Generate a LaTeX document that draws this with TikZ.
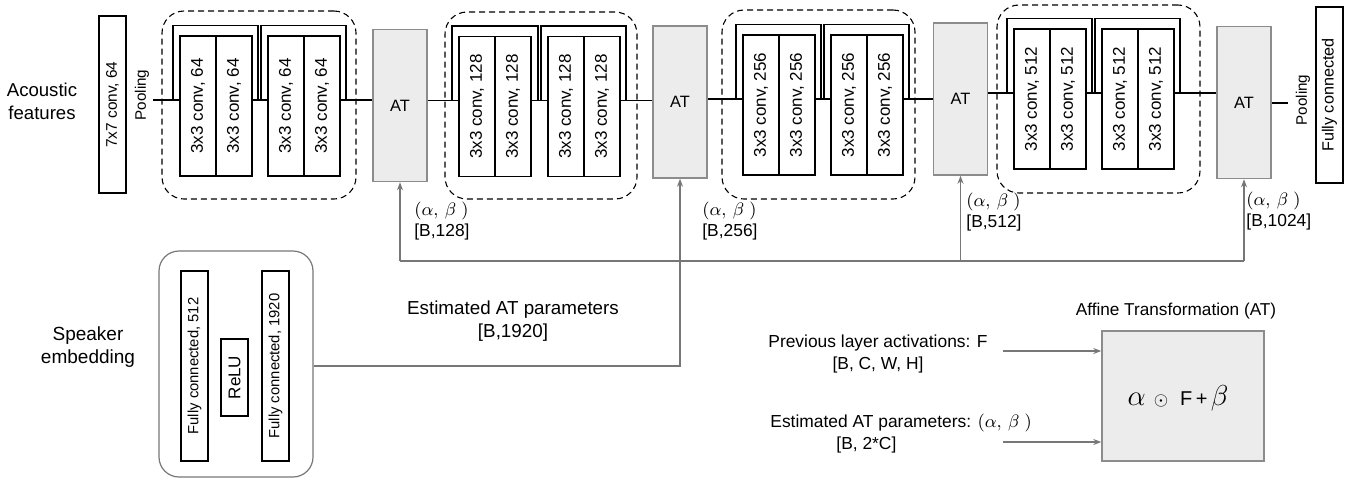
\documentclass[tikz,border=0pt]{standalone}
\usepackage{graphicx}
\usepackage{fontspec}
\setmainfont{Liberation Sans}
\usetikzlibrary{arrows.meta,fit}
\definecolor{atfill}{HTML}{ECECEC}
\definecolor{atdraw}{HTML}{8C8C8C}
\definecolor{arr}{HTML}{777777}
\newcommand{\fs}[2]{\fontsize{#1}{#2}\selectfont}
\newcommand{\abpair}{$(\alpha,\,\beta\;)$}
\begin{document}
\begin{tikzpicture}[x=0.5pt,y=-0.5pt,
  conv/.style={draw=black, line width=0.65pt, minimum width=18pt, minimum height=70pt, inner sep=0pt, font=\fs{8.5}{10}},
  atbox/.style={draw=atdraw, fill=atfill, line width=0.75pt, minimum width=27pt, minimum height=76pt, inner sep=0pt, font=\fs{8.2}{10}},
  narrow/.style={draw=black, line width=0.65pt, minimum width=13.5pt, inner sep=0pt},
  dashbox/.style={draw=black, dashed, dash pattern=on 3pt off 2pt, line width=0.55pt, rounded corners=11pt, inner sep=0pt},
  wire/.style={draw=black, line width=0.6pt},
  gline/.style={draw=arr, line width=0.6pt},
  garrow/.style={gline, -{Stealth[length=4pt,width=3pt]}},
  lbl/.style={inner sep=0pt, font=\fs{8.7}{10.5}, align=left},
  txt/.style={inner sep=0pt, align=center}]
\useasboundingbox (0,0) rectangle (1348,479);

% left input
\node[txt, font=\fs{9.3}{11.5}] (acf) at (42,101) {Acoustic\\features};
\node[narrow, minimum height=88.5pt, font=\fs{7.7}{9}] (c77) at (112.5,104.5) {\rotatebox{90}{7x7 conv, 64}};
\node[txt, font=\fs{7.6}{9}] (pool1) at (142,95) {\rotatebox{90}{Pooling}};

% dashed groups
\node[dashbox, fit={(162,11) (356,199)}] (g1) {};
\node[dashbox, fit={(445,12) (637,199)}] (g2) {};
\node[dashbox, fit={(722,10) (915,199)}] (g3) {};
\node[dashbox, fit={(997,5) (1200,193)}] (g4) {};

% conv stages
\foreach \s/\ax/\bx/\cy/\lab in {1/180/268/106/64, 2/459/548/106.5/128, 3/743/831/105/256, 4/1014/1102/99/512} {
  \coordinate (ly\s) at (0,\cy-6);
  \node[conv] (c\s-a1) at (\ax+18,\cy) {\rotatebox{90}{3x3 conv, \lab}};
  \node[conv] (c\s-a2) at (\ax+54,\cy) {\rotatebox{90}{3x3 conv, \lab}};
  \node[conv] (c\s-b1) at (\bx+18,\cy) {\rotatebox{90}{3x3 conv, \lab}};
  \node[conv] (c\s-b2) at (\bx+54,\cy) {\rotatebox{90}{3x3 conv, \lab}};
  \draw[wire] (\ax-7,\cy-6) |- (\bx-10,\cy-80.5) -- (\bx-10,\cy-6);
  \draw[wire] (\bx-7,\cy-6) |- (\bx+78,\cy-80.5) -- (\bx+78,\cy-6);
  \draw[wire] (c\s-a2.east |- ly\s) -- (c\s-b1.west |- ly\s);
}

% AT blocks
\node[atbox] (at1) at (400,105.5) {AT};
\node[atbox] (at2) at (680,102) {AT};
\node[atbox] (at3) at (960.5,99) {AT};
\node[atbox] (at4) at (1244,102.5) {AT};

% main flow
\coordinate (in1) at (153,100);
\draw[wire] (in1) -- (c1-a1.west |- ly1);
\draw[wire] (c1-b2.east |- ly1) -- (at1.west |- ly1);
\draw[wire] (at1.east |- ly2) -- (c2-a1.west |- ly2);
\draw[wire] (c2-b2.east |- ly2) -- (at2.west |- ly2);
\draw[wire] (at2.east |- ly3) -- (c3-a1.west |- ly3);
\draw[wire] (c3-b2.east |- ly3) -- (at3.west |- ly3);
\draw[wire] (at3.east |- ly4) -- (c4-a1.west |- ly4);
\draw[wire] (c4-b2.east |- ly4) -- (at4.west |- ly4);
\coordinate (out1) at (1288,103);
\draw[wire] (at4.east |- out1) -- (out1);

% right output
\node[txt, font=\fs{7.6}{9}] (pool2) at (1303,100) {\rotatebox{90}{Pooling}};
\node[narrow, minimum height=88pt, font=\fs{8.1}{10}] (fcout) at (1329.5,95) {\rotatebox{90}{Fully connected}};

% AT parameter labels
\node[lbl, anchor=north west] (lab1) at (414,202) {\abpair\\{[B,128]}};
\node[lbl, anchor=north west] (lab2) at (702,202) {\abpair\\{[B,256]}};
\node[lbl, anchor=north west] (lab3) at (966,193) {\abpair\\{[B,512]}};
\node[lbl, anchor=north west] (lab4) at (1246,192) {\abpair\\{[B,1024]}};

% bus
\coordinate (bus) at (0,261);
\draw[gline] (at1.south |- bus) -- (at4.south |- bus);
\foreach \a in {at1,at3,at4} \draw[garrow] (\a.south |- bus) -- (\a.south);

% speaker embedding
\node[txt, font=\fs{9.5}{11.5}] (spkl) at (88,347) {Speaker\\embedding};
\node[draw=arr, line width=0.6pt, rounded corners=10pt, inner sep=0pt, fit={(159,251) (313,477)}] (spk) {};
\node[narrow, minimum height=95pt, font=\fs{7.4}{9}] (fc1) at (194.5,366) {\rotatebox{90}{Fully connected, 512}};
\node[narrow, minimum height=38.5pt, font=\fs{8.5}{10}] (relu) at (234.5,377.5) {\rotatebox{90}{ReLU}};
\node[narrow, minimum height=95pt, font=\fs{7.4}{9}] (fc2) at (275.5,366) {\rotatebox{90}{Fully connected, 1920}};
\coordinate (sl) at (0,366);
\draw[garrow] (spk.east |- sl) -| (at2.south);
\node[txt, font=\fs{9.4}{11.5}] (estl) at (513,321) {Estimated AT parameters\\{[B,1920]}};

% affine transformation legend
\node[txt, font=\fs{8.6}{10}] (aftitle) at (1176,311) {Affine Transformation (AT)};
\node[atbox, minimum width=81pt, minimum height=65pt] (afsq) at (1183,396) {};
\node[txt] (form) at (1178,398) {{\fs{15}{16}$\alpha$}\hspace{4pt}{\fs{9}{10}$\odot$}\hspace{6pt}{\fs{10}{12}F\,+\,}{\fs{15}{16}$\beta$}};
\node[txt, font=\fs{8.7}{11}] (prev) at (878,354) {Previous layer activations: F\\{[B, C, W, H]}};
\coordinate (pa) at (1003,351);
\draw[garrow] (pa) -- (afsq.west |- pa);
\node[inner sep=0pt, align=left, font=\fs{8.7}{11}, anchor=west] (est2) at (770,434) {Estimated AT parameters: \abpair\\\hspace*{33pt}{[B, 2*C]}};
\coordinate (pb) at (1003,442);
\draw[garrow] (pb) -- (afsq.west |- pb);
\end{tikzpicture}
\end{document}
